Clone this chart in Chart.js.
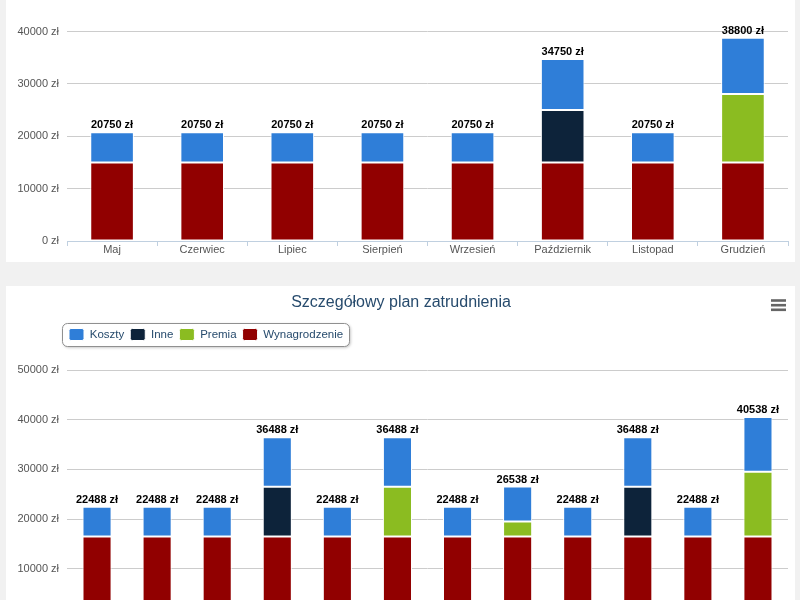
<!DOCTYPE html>
<html>
<head>
<meta charset="utf-8">
<script src="https://cdn.jsdelivr.net/npm/chart.js@4/dist/chart.umd.min.js"></script>
<style>
html,body{margin:0;padding:0;width:800px;height:600px;overflow:hidden;background:#f1f1f1;}
.panel{position:absolute;left:6px;width:789px;background:#fff;}
#p1{top:0;height:262px;}
#p2{top:286px;height:400px;}
canvas{position:absolute;left:0;}
#c1{top:0;}
#c2{top:285px;}
</style>
</head>
<body>
<div class="panel" id="p1"></div>
<div class="panel" id="p2"></div>
<canvas id="c1" width="800" height="262"></canvas>
<canvas id="c2" width="800" height="355"></canvas>
<script>
// ---------- data ----------
const seriesNames = ['Koszty', 'Inne', 'Premia', 'Wynagrodzenie'];
const seriesColors = ['#2f7ed8', '#0d233a', '#8bbc21', '#910000'];
const currency = ' zł';

const topMonths = ['Maj', 'Czerwiec', 'Lipiec', 'Sierpień', 'Wrzesień', 'Październik', 'Listopad', 'Grudzień'];
const topKoszty        = [5750, 5750, 5750, 5750, 5750, 9750, 5750, 10750];
const topInne          = [0, 0, 0, 0, 0, 10000, 0, 0];
const topPremia        = [0, 0, 0, 0, 0, 0, 0, 13050];
const topWynagrodzenie = [15000, 15000, 15000, 15000, 15000, 15000, 15000, 15000];
const topYTicks = [0, 10000, 20000, 30000, 40000];

const bottomTitle = 'Szczegółowy plan zatrudnienia';
const bottomMonths = ['Styczeń', 'Luty', 'Marzec', 'Kwiecień', 'Maj', 'Czerwiec', 'Lipiec', 'Sierpień', 'Wrzesień', 'Październik', 'Listopad', 'Grudzień'];
const bottomKoszty        = [6000, 6000, 6000, 10000, 6000, 10000, 6000, 7000, 6000, 10000, 6000, 11000];
const bottomInne          = [0, 0, 0, 10000, 0, 0, 0, 0, 0, 10000, 0, 0];
const bottomPremia        = [0, 0, 0, 0, 0, 10000, 0, 3050, 0, 0, 0, 13050];
const bottomWynagrodzenie = [16488, 16488, 16488, 16488, 16488, 16488, 16488, 16488, 16488, 16488, 16488, 16488];
const bottomYTicks = [0, 10000, 20000, 30000, 40000, 50000];

// ---------- helpers ----------
const FONT = "'Liberation Sans', Arial, sans-serif";
Chart.defaults.font.family = FONT;
Chart.defaults.font.size = 11;
Chart.defaults.color = '#555555';

function makeDatasets(koszty, inne, premia, wyn) {
  // stacking order bottom -> top: Wynagrodzenie, Premia, Inne, Koszty
  const vals = [koszty, inne, premia, wyn];
  const order = [3, 2, 1, 0];
  return order.map(i => ({
    label: seriesNames[i],
    data: vals[i],
    backgroundColor: seriesColors[i],
    borderColor: '#ffffff',
    borderWidth: 1,
    borderSkipped: false,
    stack: 'plan',
    barPercentage: 0.484,
    categoryPercentage: 1
  }));
}

const stackLabels = {
  id: 'stackLabels',
  afterDatasetsDraw(chart) {
    const ctx = chart.ctx, xs = chart.scales.x, ys = chart.scales.y;
    ctx.save();
    ctx.font = 'bold 11px ' + FONT;
    ctx.fillStyle = '#000000';
    ctx.textAlign = 'center';
    ctx.textBaseline = 'alphabetic';
    chart.data.labels.forEach((lab, i) => {
      let total = 0;
      chart.data.datasets.forEach(d => { total += d.data[i] || 0; });
      ctx.fillText(total + currency, xs.getPixelForValue(i), ys.getPixelForValue(total) - 4);
    });
    ctx.restore();
  }
};

function scalesFor(yTicks, yWidth, xHeight) {
  return {
    x: {
      stacked: true,
      grid: { display: true, drawOnChartArea: false, drawTicks: true, tickLength: 5, color: '#C0D0E0', offset: true },
      border: { display: true, color: '#C0D0E0', width: 1 },
      ticks: { padding: -3, color: '#555555', font: { size: 11 }, maxRotation: 0, autoSkip: false },
      afterFit: s => { s.height = xHeight; }
    },
    y: {
      stacked: true,
      min: yTicks[0],
      max: yTicks[yTicks.length - 1],
      afterBuildTicks: s => { s.ticks = yTicks.map(v => ({ value: v })); },
      grid: {
        drawTicks: false,
        color: c => (c.tick && c.tick.value === 0) ? 'rgba(0,0,0,0)' : '#CCCCCC'
      },
      border: { display: false },
      ticks: { padding: 8, color: '#555555', font: { size: 11 }, callback: v => v + currency },
      afterFit: s => { s.width = yWidth; }
    }
  };
}

// ---------- top chart ----------
new Chart(document.getElementById('c1'), {
  type: 'bar',
  data: { labels: topMonths, datasets: makeDatasets(topKoszty, topInne, topPremia, topWynagrodzenie) },
  options: {
    responsive: false,
    animation: false,
    events: [],
    layout: { padding: { top: 31.5, right: 12, left: 0, bottom: 0 } },
    plugins: { legend: { display: false }, title: { display: false }, tooltip: { enabled: false } },
    scales: scalesFor(topYTicks, 67, 21)
  },
  plugins: [stackLabels]
});

// ---------- bottom chart ----------
const legendFrame = {
  id: 'legendFrame',
  afterLayout(chart) {
    if (chart.legend) chart.legend.left = 63;
  },
  beforeDraw(chart) {
    const boxes = chart.legend && chart.legend.legendHitBoxes;
    if (!boxes || !boxes.length) return;
    let l = Infinity, r = -Infinity, t = Infinity, b = -Infinity;
    boxes.forEach(h => {
      l = Math.min(l, h.left); r = Math.max(r, h.left + h.width);
      t = Math.min(t, h.top); b = Math.max(b, h.top + h.height);
    });
    const ctx = chart.ctx;
    ctx.save();
    const x = Math.round(l - 7) + 0.5, y = Math.round(t - 6) + 0.5;
    const w = Math.round(r - l + 13), h = Math.round(b - t + 11);
    ctx.shadowColor = 'rgba(0,0,0,0.28)';
    ctx.shadowBlur = 3; ctx.shadowOffsetX = 1; ctx.shadowOffsetY = 1;
    ctx.beginPath();
    ctx.roundRect(x, y, w, h, 5);
    ctx.fillStyle = '#ffffff';
    ctx.fill();
    ctx.shadowColor = 'rgba(0,0,0,0)';
    ctx.strokeStyle = '#909090';
    ctx.lineWidth = 1;
    ctx.stroke();
    ctx.restore();
  },
  afterDraw(chart) {
    const ctx = chart.ctx;
    ctx.save();
    ctx.strokeStyle = '#666666';
    ctx.lineWidth = 2.6;
    [15.5, 20.2, 24.8].forEach(yy => {
      ctx.beginPath(); ctx.moveTo(771, yy); ctx.lineTo(786, yy); ctx.stroke();
    });
    ctx.restore();
  }
};

new Chart(document.getElementById('c2'), {
  type: 'bar',
  data: { labels: bottomMonths, datasets: makeDatasets(bottomKoszty, bottomInne, bottomPremia, bottomWynagrodzenie) },
  options: {
    responsive: false,
    animation: false,
    events: [],
    layout: { padding: { top: 0, right: 12, left: 14, bottom: 0 } },
    plugins: {
      title: {
        display: true, text: bottomTitle, color: '#274b6d',
        font: { size: 16, weight: 'normal', lineHeight: 1.2 },
        padding: { top: 8, bottom: 10.3 }
      },
      legend: {
        display: true, position: 'top', align: 'start', reverse: true,
        labels: { boxWidth: 15, boxHeight: 12, padding: 6, color: '#274b6d', font: { size: 11.5 }, useBorderRadius: true, borderRadius: 2 }
      },
      subtitle: {
        display: true, text: ' ', position: 'top', weight: 500,
        font: { size: 10, lineHeight: 1 }, padding: { top: 0, bottom: 9.5 }
      },
      tooltip: { enabled: false }
    },
    scales: scalesFor(bottomYTicks, 53, 21.5)
  },
  plugins: [stackLabels, legendFrame]
});
</script>
</body>
</html>
